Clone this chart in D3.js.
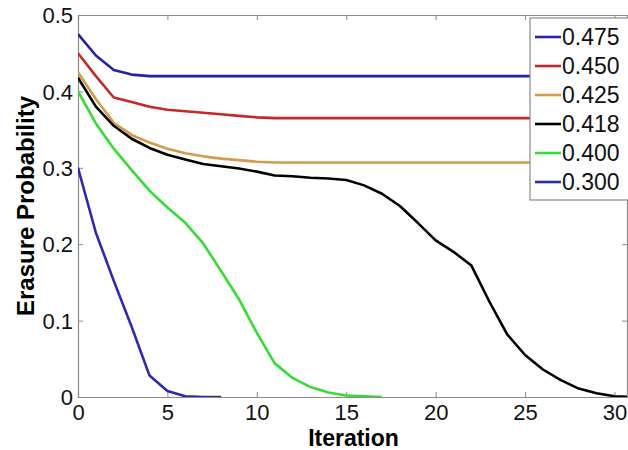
<!DOCTYPE html>
<html>
<head>
<meta charset="utf-8">
<script src="https://cdn.jsdelivr.net/npm/d3@7"></script>
<style>
  body { margin: 0; background: #fff; }
  text { font-family: "Liberation Sans", Arial, sans-serif; }
</style>
</head>
<body>
<div id="chart"></div>
<script>
const iterations = d3.range(0, 32);
const xTicks = [0, 5, 10, 15, 20, 25, 30];
const yTicks = [0, 0.1, 0.2, 0.3, 0.4, 0.5];

const seriesNames = ["0.475", "0.450", "0.425", "0.418", "0.400", "0.300"];
const seriesColors = ["#2222aa", "#c42828", "#d69a48", "#000000", "#33dd33", "#2a2ab8"];

const p475 = [0.475, 0.447, 0.428, 0.422, 0.420, 0.420, 0.420, 0.420, 0.420, 0.420, 0.420, 0.420, 0.420, 0.420, 0.420, 0.420,
  0.420, 0.420, 0.420, 0.420, 0.420, 0.420, 0.420, 0.420, 0.420, 0.420, 0.420, 0.420, 0.420, 0.420, 0.420, 0.420];
const p450 = [0.450, 0.420, 0.392, 0.386, 0.380, 0.376, 0.374, 0.372, 0.370, 0.368, 0.366, 0.365, 0.365, 0.365, 0.365, 0.365,
  0.365, 0.365, 0.365, 0.365, 0.365, 0.365, 0.365, 0.365, 0.365, 0.365, 0.365, 0.365, 0.365, 0.365, 0.365, 0.365];
const p425 = [0.425, 0.390, 0.359, 0.343, 0.333, 0.325, 0.319, 0.315, 0.312, 0.310, 0.308, 0.307, 0.307, 0.307, 0.307, 0.307,
  0.307, 0.307, 0.307, 0.307, 0.307, 0.307, 0.307, 0.307, 0.307, 0.307, 0.307, 0.307, 0.307, 0.307, 0.307, 0.307];
const p418 = [0.418, 0.380, 0.355, 0.338, 0.326, 0.317, 0.311, 0.305, 0.302, 0.299, 0.295, 0.290, 0.289, 0.287, 0.286, 0.284,
  0.277, 0.266, 0.250, 0.228, 0.205, 0.190, 0.172, 0.125, 0.082, 0.055, 0.036, 0.022, 0.011, 0.005, 0.001, 0.000];
const p400 = [0.400, 0.358, 0.325, 0.297, 0.270, 0.248, 0.228, 0.201, 0.165, 0.128, 0.084, 0.044, 0.025, 0.013, 0.006, 0.002,
  0.001, 0.000];
const p300 = [0.300, 0.215, 0.152, 0.092, 0.028, 0.008, 0.001, 0.000, 0.000];

const seriesValues = [p475, p450, p425, p418, p400, p300];

const margin = {top: 15, right: 1, bottom: 53, left: 78};
const width = 628 - margin.left - margin.right;
const height = 450 - margin.top - margin.bottom;

const x = d3.scaleLinear().domain([0, 30.7]).range([0, width]);
const y = d3.scaleLinear().domain([0, 0.5]).range([height, 0]);

const svg = d3.select("#chart").append("svg")
  .attr("width", 628)
  .attr("height", 450)
  .append("g")
  .attr("transform", "translate(" + margin.left + "," + margin.top + ")");

svg.append("defs").append("clipPath").attr("id", "clip")
  .append("rect").attr("width", width).attr("height", height);

// axes, matlab style: ticks inside, box all round
const axisColor = "#8a8a8a";
const styleAxis = g => {
  g.select(".domain").attr("stroke", axisColor).attr("stroke-width", 1.2);
  g.selectAll(".tick line").attr("stroke", axisColor);
  g.selectAll(".tick text").attr("fill", "#111").attr("font-size", 22);
};

svg.append("g")
  .attr("transform", "translate(0," + height + ")")
  .call(d3.axisBottom(x).tickValues(xTicks).tickSize(-5).tickPadding(7).tickFormat(d3.format("d")))
  .call(styleAxis);

svg.append("g")
  .call(d3.axisLeft(y).tickValues(yTicks).tickSize(-5).tickPadding(5).tickFormat(d => d === 0 ? "0" : d3.format(".1f")(d)))
  .call(styleAxis)
  .selectAll(".tick text").attr("dy", "0.35em");

svg.append("g")
  .call(d3.axisTop(x).tickValues(xTicks).tickSize(-5).tickFormat(""))
  .call(styleAxis);

svg.append("g")
  .attr("transform", "translate(" + width + ",0)")
  .call(d3.axisRight(y).tickValues(yTicks).tickSize(-5).tickFormat(""))
  .call(styleAxis);

// lines
const line = d3.line()
  .x((d, i) => x(iterations[i]))
  .y(d => y(d));

svg.append("g").attr("clip-path", "url(#clip)")
  .selectAll("path")
  .data(seriesValues)
  .enter().append("path")
  .attr("fill", "none")
  .attr("stroke", (d, i) => seriesColors[i])
  .attr("stroke-width", 2.6)
  .attr("stroke-linejoin", "round")
  .attr("d", line);

// axis labels
svg.append("text")
  .attr("x", width / 2 + 1)
  .attr("y", height + 49)
  .attr("text-anchor", "middle")
  .attr("font-size", 23)
  .attr("font-weight", "bold")
  .text("Iteration");

svg.append("text")
  .attr("transform", "translate(-44," + (height / 2) + ") rotate(-90)")
  .attr("text-anchor", "middle")
  .attr("font-size", 24)
  .attr("font-weight", "bold")
  .text("Erasure Probability");

// legend
const legend = svg.append("g")
  .attr("transform", "translate(" + (530 - margin.left) + "," + (18 - margin.top) + ")");

legend.append("rect")
  .attr("width", 100)
  .attr("height", 182)
  .attr("fill", "#fff")
  .attr("stroke", axisColor)
  .attr("stroke-width", 1.2);

const item = legend.selectAll(".item")
  .data(seriesNames)
  .enter().append("g")
  .attr("transform", (d, i) => "translate(0," + (19 + i * 29) + ")");

item.append("line")
  .attr("x1", 5).attr("x2", 31)
  .attr("stroke", (d, i) => seriesColors[i])
  .attr("stroke-width", 2.6);

item.append("text")
  .attr("x", 32)
  .attr("dy", "0.36em")
  .attr("font-size", 23)
  .attr("fill", "#111")
  .text(d => d);
</script>
</body>
</html>
